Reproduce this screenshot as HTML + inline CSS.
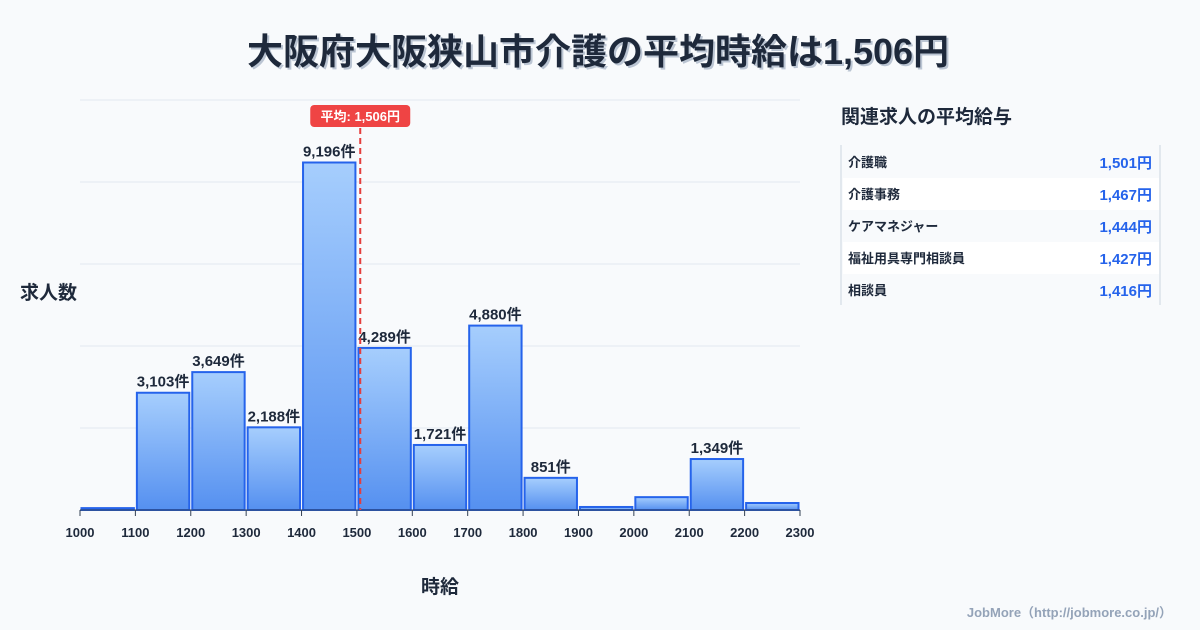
<!DOCTYPE html>
<html><head><meta charset="utf-8"><style>
body{margin:0;background:#f8fafc;font-family:"Liberation Sans","Noto Sans CJK JP",sans-serif;}
#wrap{position:relative;width:1200px;height:630px;overflow:hidden;background:#f8fafc;}
</style></head><body>
<div id="wrap">
<svg id="svg" width="1200" height="630" xmlns="http://www.w3.org/2000/svg">
<defs><linearGradient id="g" x1="0" y1="0" x2="0" y2="1"><stop offset="0" stop-color="#a6cefd"/><stop offset="1" stop-color="#5590f0"/></linearGradient></defs>
<text x="600" y="66" text-anchor="middle" font-size="36" font-weight="bold" fill="#94a3b8" opacity="0.6">大阪府大阪狭山市介護の平均時給は1,506円</text>
<text x="598" y="64" text-anchor="middle" font-size="36" font-weight="bold" fill="#1e293b">大阪府大阪狭山市介護の平均時給は1,506円</text>
<text x="20" y="299" font-size="19" font-weight="bold" fill="#1e293b">求人数</text>
<text x="440" y="593" text-anchor="middle" font-size="19" font-weight="bold" fill="#1e293b">時給</text>
<g id="grid"></g><g id="bars"></g><g id="ticks"></g><g id="avg"></g>
<text x="841" y="123" font-size="19" font-weight="bold" fill="#1e293b">関連求人の平均給与</text>
<g id="table"></g>
<text x="1172" y="617" text-anchor="end" font-size="13" font-weight="bold" fill="#94a3b8">JobMore（http://jobmore.co.jp/）</text>
</svg></div>
<script>
const binStarts=[1000,1100,1200,1300,1400,1500,1600,1700,1800,1900,2000,2100,2200];
const counts=[50,3103,3649,2188,9196,4289,1721,4880,851,80,340,1349,185];
const labeled=[false,true,true,true,true,true,true,true,true,false,false,true,false];
const xTicks=[1000,1100,1200,1300,1400,1500,1600,1700,1800,1900,2000,2100,2200,2300];
const avgWage=1506;
const jobNames=["介護職","介護事務","ケアマネジャー","福祉用具専門相談員","相談員"];
const jobWages=[1501,1467,1444,1427,1416];
const yMax=10850, xMin=1000, xMaxV=2300;
const L=80,R=800,T=100,B=510;
const xs=v=>L+(v-xMin)/(xMaxV-xMin)*(R-L);
const ys=v=>B-v/yMax*(B-T);
const NS="http://www.w3.org/2000/svg";
function mk(tag,attrs,parent,text){const e=document.createElementNS(NS,tag);for(const k in attrs)e.setAttribute(k,attrs[k]);if(text!==undefined)e.textContent=text;parent.appendChild(e);return e;}
const fmt=n=>n.toLocaleString('en-US');
const grid=document.getElementById('grid');
for(let i=0;i<=5;i++){const y=ys(yMax*i/5);const l=mk('line',{x1:L,x2:R,y1:y,y2:y,stroke:'#e2e8f0','stroke-width':1},grid);

}
const bars=document.getElementById('bars');
binStarts.forEach((s,i)=>{const x0=xs(s)+1.5,x1=xs(s+100)-1.5,y=ys(counts[i]);
const r=mk('rect',{x:x0,y:y,width:x1-x0,height:B-y,fill:'url(#g)',stroke:'#2563eb','stroke-width':2},bars);


if(labeled[i]){const t=mk('text',{x:(x0+x1)/2,y:y-6,'text-anchor':'middle','font-size':15,'font-weight':'bold',fill:'#1e293b'},bars,fmt(counts[i])+'件');

}});
const ticks=document.getElementById('ticks');
mk('line',{x1:L,x2:R,y1:B,y2:B,stroke:'#334155','stroke-width':1},ticks);
xTicks.forEach(v=>{const x=xs(v);mk('line',{x1:x,x2:x,y1:B,y2:B+6,stroke:'#334155'},ticks);
const t=mk('text',{x:x,y:537,'text-anchor':'middle','font-size':13,'font-weight':'bold',fill:'#1e293b'},ticks,String(v));

});
const avg=document.getElementById('avg');const ax=xs(avgWage);
const al=mk('line',{x1:ax,x2:ax,y1:128,y2:B,stroke:'#e53e3e','stroke-width':2,'stroke-dasharray':'6,4'},avg);


const ar=mk('rect',{x:ax-50,y:105,width:100,height:22,rx:4,fill:'#ef4444'},avg);


mk('text',{x:ax,y:121,'text-anchor':'middle','font-size':13,'font-weight':'bold',fill:'#fff'},avg,'平均: '+fmt(avgWage)+'円');
const tb=document.getElementById('table');
mk('line',{x1:841,x2:841,y1:145,y2:305,stroke:'#cbd5e1'},tb);
mk('line',{x1:1160,x2:1160,y1:145,y2:305,stroke:'#cbd5e1'},tb);
jobNames.forEach((n,i)=>{const y=146+i*32;
if(i%2===1)mk('rect',{x:843,y:y,width:316,height:32,fill:'#ffffff'},tb);
const a=mk('text',{x:848,y:y+21,'font-size':13,'font-weight':'bold',fill:'#1e293b'},tb,n);


const b=mk('text',{x:1152,y:y+22,'text-anchor':'end','font-size':15,'font-weight':'bold',fill:'#2563eb'},tb,fmt(jobWages[i])+'円');

});
</script></body></html>
